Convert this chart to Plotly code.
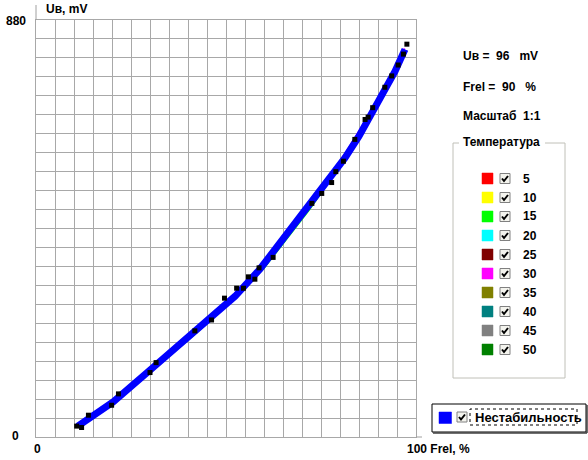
import plotly.graph_objects as go

# ---- data ----
frel_blue = [11.0, 14.2, 20.3, 30.0, 41.8, 47.0, 52.4, 58.9, 65.0, 72.1, 76.5, 81.3, 85.0, 89.2, 92.0, 94.5, 97.1]
ub_blue = [23, 40, 74, 141, 222, 260, 297, 354, 418, 488, 536, 589, 635, 694, 734, 772, 818]

temps = ["5", "10", "15", "20", "25", "30", "35", "40", "45", "50"]
temp_colors = ["#ff0000", "#ffff00", "#00ff00", "#00ffff", "#800000",
               "#ff00ff", "#808000", "#008080", "#808080", "#008000"]
frel_t = [11, 20, 30, 42, 52, 60, 72, 81, 89, 97]
ub_t = {
    "5":  [22, 71, 140, 221, 294, 361, 484, 587, 692, 814],
    "10": [24, 73, 142, 223, 296, 363, 486, 589, 694, 816],
    "15": [20, 68, 137, 218, 291, 356, 480, 583, 688, 810],
    "20": [23, 72, 141, 222, 295, 362, 485, 588, 693, 815],
    "25": [25, 74, 143, 224, 297, 364, 487, 590, 695, 817],
    "30": [27, 77, 146, 228, 300, 368, 490, 594, 698, 820],
    "35": [22, 70, 139, 220, 293, 360, 483, 586, 691, 813],
    "40": [21, 70, 138, 219, 292, 359, 482, 585, 690, 812],
    "45": [24, 72, 141, 222, 295, 362, 485, 588, 693, 815],
    "50": [23, 71, 140, 221, 294, 361, 484, 587, 692, 814],
}

mk_frel = [10.7, 12.0, 13.8, 19.9, 21.7, 30.0, 31.6, 41.8, 46.2, 49.6, 52.8, 54.6,
           55.9, 57.6, 58.7, 62.4, 72.6, 75.2, 77.8, 78.9, 80.9, 83.9, 86.6, 87.4,
           88.6, 91.8, 93.6, 95.3, 96.7, 97.6]
mk_ub = [23, 20, 46, 67, 91, 136, 157, 224, 247, 293, 314, 314,
         338, 333, 357, 379, 493, 514, 537, 560, 582, 628, 670, 675,
         695, 738, 762, 785, 808, 829]

x_ticks = [0, 100]
y_ticks = [0, 880]

# ---- geometry helpers (pixel -> paper) ----
L, R, T, B = 36, 416, 20, 437
W, H = R - L, B - T
def px(x):
    return (x - L) / W
def py(y):
    return (B - y) / H

FONT = "Arial, Liberation Sans, sans-serif"
fig = go.Figure()

for t, c in zip(temps, temp_colors):
    fig.add_trace(go.Scatter(x=frel_t, y=ub_t[t], mode="lines",
                             line=dict(color=c, width=1.5),
                             showlegend=False, hoverinfo="skip"))

fig.add_trace(go.Scatter(x=frel_blue, y=ub_blue, mode="lines",
                         line=dict(color="#0000ff", width=7),
                         showlegend=False))
fig.add_trace(go.Scatter(x=mk_frel, y=mk_ub, mode="markers",
                         marker=dict(color="#000000", size=5, symbol="square"),
                         showlegend=False))

shapes = []
ann = []

def text(x, y, s, anchor="left", size=12):
    ann.append(dict(x=px(x), y=py(y), xref="paper", yref="paper", text="<b>" + s + "</b>",
                    showarrow=False, xanchor=anchor, yanchor="middle",
                    font=dict(family=FONT, size=size, color="#000000")))

def rect(x0, y0, x1, y1, fill=None, line="#000000", lw=1, dash="solid"):
    shapes.append(dict(type="rect", xref="paper", yref="paper",
                       x0=px(x0), x1=px(x1), y0=py(y1), y1=py(y0),
                       fillcolor=fill if fill else "rgba(0,0,0,0)",
                       line=dict(color=line, width=lw, dash=dash), layer="above"))

def line(x0, y0, x1, y1, color="#000000", lw=1):
    shapes.append(dict(type="line", xref="paper", yref="paper",
                       x0=px(x0), x1=px(x1), y0=py(y0), y1=py(y1),
                       line=dict(color=color, width=lw), layer="above"))

def checkbox(x, y):
    rect(x, y, x + 10, y + 10, fill="#f4f4ee", line="#808080", lw=1)
    shapes.append(dict(type="path", xref="paper", yref="paper",
                       path=f"M {px(x+2)},{py(y+5)} L {px(x+4)},{py(y+7.5)} L {px(x+8)},{py(y+2.5)}",
                       line=dict(color="#000000", width=2), layer="above"))

# axis stubs
line(36, 5, 36, 20, "#a0a0a0", 1)
line(416, 437, 422, 437, "#a0a0a0", 1)

# axis texts
text(28, 21, str(y_ticks[1]), "right")
text(21, 436, str(y_ticks[0]), "right")
text(37, 449, str(x_ticks[0]), "center")
text(405, 449, str(x_ticks[1]) + " Frel, %", "left")
text(44, 9, "Uв, mV", "left")

# right info texts
text(461, 56, "Uв =  96   mV")
text(461, 87, "Frel =  90   %")
text(461, 116, "Масштаб  1:1")

# Temperature group box
line(453, 143, 453, 378, "#c0c0b8", 1)
line(565, 143, 565, 378, "#c0c0b8", 1)
line(453, 378, 565, 378, "#c0c0b8", 1)
line(453, 143, 459, 143, "#c0c0b8", 1)
line(545, 143, 565, 143, "#c0c0b8", 1)
text(461, 142, "Температура")
for i, (t, c) in enumerate(zip(temps, temp_colors)):
    yc = 178.5 + 19 * i
    rect(482, yc - 5.5, 493, yc + 5.5, fill=c, line=c, lw=0.5)
    checkbox(500, yc - 5)
    text(521, yc, t)

# Instability legend box
rect(432, 404, 586, 432, fill="#ffffff", line="#000000", lw=1)
line(433, 433, 587, 433, "#404040", 1.5)
line(587, 405, 587, 433, "#404040", 1.5)
rect(439, 412, 451.5, 423.5, fill="#0000ff", line="#0000ff", lw=0.5)
checkbox(457, 412)
rect(470, 409, 577, 425, line="#000000", lw=1, dash="dot")
text(473, 417.5, "Нестабильность", size=13)

fig.update_layout(
    width=588, height=460,
    margin=dict(l=L, r=588 - R, t=T, b=460 - B),
    paper_bgcolor="#ffffff", plot_bgcolor="#ffffff",
    shapes=shapes, annotations=ann,
    xaxis=dict(range=[0, 100], dtick=5, tick0=0, showticklabels=False,
               showgrid=True, gridcolor="#a8a8a8", gridwidth=1, zeroline=False,
               showline=True, linecolor="#a8a8a8", linewidth=1, mirror=True, ticks=""),
    yaxis=dict(range=[0, 880], dtick=40, tick0=0, showticklabels=False,
               showgrid=True, gridcolor="#a8a8a8", gridwidth=1, zeroline=False,
               showline=True, linecolor="#a8a8a8", linewidth=1, mirror=True, ticks=""),
    showlegend=False,
)

fig.write_html("out.html", config={"displayModeBar": False},
               post_script="document.body.style.margin='0px';document.body.style.overflow='hidden';")
